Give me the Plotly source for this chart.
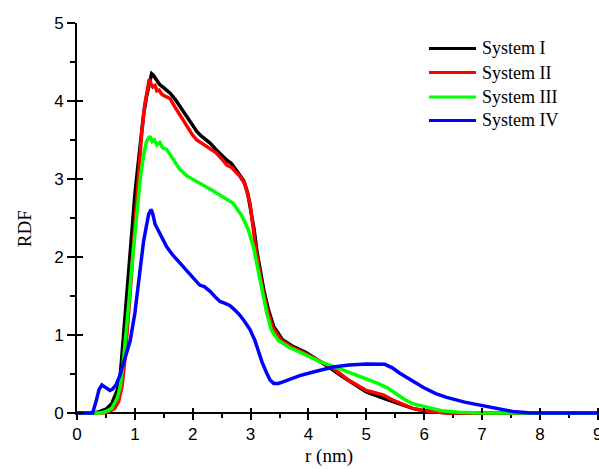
import plotly.graph_objects as go

# Radial distribution functions for the four systems
r_sys1 = [0, 0.3, 0.4, 0.5, 0.6, 0.7, 0.75, 0.8, 0.85, 0.9, 0.95, 1.0, 1.05, 1.1, 1.15, 1.2,
          1.25, 1.29, 1.32, 1.36, 1.4, 1.43, 1.48, 1.55, 1.61, 1.7, 1.78, 1.9, 2.0, 2.07,
          2.15, 2.24, 2.3, 2.4, 2.5, 2.59, 2.67, 2.73, 2.8, 2.88, 2.95, 3.0, 3.06, 3.11,
          3.17, 3.23, 3.31, 3.4, 3.55, 3.72, 3.95, 4.1, 4.37, 4.6, 4.8, 5.0, 5.3, 5.6,
          5.8, 6.0, 6.2, 6.4, 9.1]
rdf_sys1 = [0, 0, 0.02, 0.05, 0.12, 0.3, 0.5, 0.95, 1.45, 1.95, 2.4, 2.8, 3.15, 3.52, 3.82, 4.05,
            4.25, 4.35, 4.33, 4.29, 4.24, 4.21, 4.18, 4.14, 4.1, 4.02, 3.93, 3.79, 3.68, 3.61,
            3.55, 3.5, 3.46, 3.38, 3.3, 3.24, 3.2, 3.14, 3.07, 2.98, 2.82, 2.62, 2.36, 2.07,
            1.82, 1.57, 1.32, 1.11, 0.94, 0.86, 0.78, 0.71, 0.58, 0.46, 0.36, 0.27, 0.19, 0.11,
            0.06, 0.03, 0.01, 0, 0]

r_sys2 = [0, 0.45, 0.55, 0.65, 0.72, 0.78, 0.83, 0.87, 0.92, 0.97, 1.02, 1.07, 1.12, 1.17,
          1.21, 1.25, 1.28, 1.31, 1.35, 1.38, 1.42, 1.46, 1.5, 1.55, 1.61, 1.67, 1.72, 1.8,
          1.9, 2.0, 2.07, 2.15, 2.3, 2.4, 2.5, 2.59, 2.67, 2.73, 2.82, 2.9, 2.99, 3.04, 3.09,
          3.15, 3.21, 3.29, 3.38, 3.53, 3.7, 3.93, 4.1, 4.43, 4.7, 5.0, 5.15, 5.3, 5.45, 5.6,
          5.8, 6.0, 6.2, 6.4, 9.1]
rdf_sys2 = [0, 0, 0.02, 0.06, 0.15, 0.35, 0.7, 1.05, 1.55, 2.1, 2.65, 3.15, 3.6, 3.95,
            4.15, 4.28, 4.22, 4.18, 4.2, 4.13, 4.14, 4.09, 4.07, 4.05, 4.03, 3.95, 3.89, 3.8,
            3.68, 3.56, 3.5, 3.46, 3.39, 3.34, 3.26, 3.18, 3.15, 3.1, 3.03, 2.94, 2.69, 2.4, 2.1,
            1.84, 1.58, 1.32, 1.1, 0.93, 0.85, 0.77, 0.7, 0.57, 0.42, 0.29, 0.26, 0.23, 0.17, 0.12,
            0.06, 0.03, 0.01, 0, 0]

r_sys3 = [0, 0.4, 0.5, 0.6, 0.7, 0.75, 0.8, 0.85, 0.9, 0.95, 1.0, 1.05, 1.1, 1.15, 1.2,
          1.26, 1.3, 1.34, 1.38, 1.43, 1.48, 1.55, 1.65, 1.78, 1.9, 2.07, 2.2, 2.35, 2.5,
          2.6, 2.7, 2.78, 2.84, 2.9, 2.96, 3.05, 3.13, 3.19, 3.28, 3.36, 3.48, 3.65, 3.88,
          4.2, 4.5, 5.0, 5.2, 5.37, 5.5, 5.65, 5.8, 6.0, 6.3, 6.6, 7.0, 9.1]
rdf_sys3 = [0, 0, 0.02, 0.06, 0.2, 0.35, 0.65, 1.0, 1.45, 1.9, 2.3, 2.7, 3.05, 3.3, 3.48,
            3.55, 3.48, 3.5, 3.44, 3.47, 3.4, 3.38, 3.27, 3.12, 3.04, 2.97, 2.91, 2.85, 2.78,
            2.74, 2.69, 2.6, 2.54, 2.45, 2.35, 2.13, 1.83, 1.58, 1.28, 1.06, 0.93, 0.85, 0.77,
            0.66, 0.58, 0.44, 0.38, 0.32, 0.25, 0.18, 0.12, 0.08, 0.03, 0.01, 0, 0]

r_sys4 = [0, 0.27, 0.33, 0.38, 0.43, 0.48, 0.53, 0.57, 0.62, 0.68, 0.74, 0.8, 0.86, 0.92,
          1.0, 1.05, 1.09, 1.15, 1.2, 1.24, 1.28, 1.31, 1.35, 1.4, 1.47, 1.55, 1.65, 1.78,
          1.9, 1.98, 2.05, 2.12, 2.2, 2.3, 2.4, 2.47, 2.55, 2.64, 2.73, 2.82, 2.9, 2.99,
          3.07, 3.13, 3.2, 3.28, 3.34, 3.4, 3.48, 3.56, 3.7, 3.85, 4.1, 4.43, 4.7, 5.0,
          5.32, 5.45, 5.58, 5.75, 5.98, 6.2, 6.39, 6.7, 6.96, 7.25, 7.53, 7.8, 8.0, 9.1]
rdf_sys4 = [0, 0, 0.15, 0.3, 0.36, 0.33, 0.3, 0.29, 0.31, 0.37, 0.48, 0.63, 0.78, 0.93,
            1.28, 1.6, 1.83, 2.2, 2.4, 2.55, 2.61, 2.55, 2.42, 2.35, 2.25, 2.13, 2.03, 1.92,
            1.82, 1.75, 1.69, 1.64, 1.62, 1.56, 1.48, 1.43, 1.41, 1.38, 1.32, 1.25, 1.17, 1.07,
            0.94, 0.8, 0.65, 0.51, 0.42, 0.38, 0.38, 0.4, 0.44, 0.48, 0.53, 0.59, 0.615, 0.63,
            0.625, 0.58, 0.51, 0.43, 0.33, 0.25, 0.2, 0.14, 0.1, 0.06, 0.02, 0.005, 0, 0]

series_names = ["System I", "System II", "System III", "System IV"]
series_colors = ["#000000", "#ff0000", "#00ff00", "#0000ff"]
series_r = [r_sys1, r_sys2, r_sys3, r_sys4]
series_rdf = [rdf_sys1, rdf_sys2, rdf_sys3, rdf_sys4]

x_ticks = [0, 1, 2, 3, 4, 5, 6, 7, 8, 9]
y_ticks = [0, 1, 2, 3, 4, 5]

X_MAX = 9.022
Y_MIN, Y_MAX = -0.025, 5.0
x_axis_pos = (0 - Y_MIN) / (Y_MAX - Y_MIN)

tick_font = dict(family="Liberation Sans, Arial, sans-serif", size=17, color="#000")
title_font = dict(family="Liberation Serif, Times New Roman, serif", size=19, color="#000")
legend_font = dict(family="Liberation Serif, Times New Roman, serif", size=18, color="#000")

fig = go.Figure()
for name, color, r, g in zip(series_names, series_colors, series_r, series_rdf):
    fig.add_trace(go.Scatter(x=r, y=g, mode="lines", name=name,
                             line=dict(color=color, width=3.5), showlegend=False))

# Companion axes that carry the inner half of the crossing major ticks
fig.add_trace(go.Scatter(x=[None], y=[None], xaxis="x2", yaxis="y2",
                         showlegend=False, hoverinfo="skip"))

fig.update_layout(
    template="none",
    width=599, height=469,
    margin=dict(l=77, r=0, t=23, b=54),
    paper_bgcolor="white", plot_bgcolor="white",
    xaxis=dict(range=[0, X_MAX], tickvals=x_ticks, ticks="outside", ticklen=6,
               tickwidth=2, tickcolor="#000", showline=True, linewidth=2, linecolor="#000",
               mirror=True, showgrid=False, zeroline=False, tickfont=tick_font,
               ticklabeloverflow="allow",
               anchor="free", position=x_axis_pos, layer="below traces", automargin=False,
               minor=dict(dtick=0.5, tick0=0, ticks="outside", ticklen=4, tickwidth=2,
                          tickcolor="#000", showgrid=False)),
    yaxis=dict(range=[Y_MIN, Y_MAX], tickvals=y_ticks, ticks="outside", ticklen=8,
               tickwidth=2, tickcolor="#000", showline=True, linewidth=2, linecolor="#000",
               mirror=False, showgrid=False, zeroline=False, tickfont=tick_font,
               layer="below traces", automargin=False,
               minor=dict(dtick=0.5, tick0=0, ticks="outside", ticklen=5, tickwidth=2,
                          tickcolor="#000", showgrid=False)),
    xaxis2=dict(range=[0, X_MAX], tickvals=x_ticks, ticks="inside", ticklen=5, tickwidth=2,
                tickcolor="#000", showticklabels=False, showline=False, showgrid=False,
                zeroline=False, overlaying="x", anchor="free", position=x_axis_pos,
                automargin=False),
    yaxis2=dict(range=[Y_MIN, Y_MAX], tickvals=y_ticks[:-1], ticks="inside", ticklen=6,
                tickwidth=2, tickcolor="#000", showticklabels=False, showline=False,
                showgrid=False, zeroline=False, overlaying="y", automargin=False),
)

# Axis titles
fig.add_annotation(text="RDF", xref="paper", yref="paper", x=-0.1015, y=0.474,
                   textangle=-90, showarrow=False, font=title_font,
                   xanchor="center", yanchor="middle")
fig.add_annotation(text="r (nm)", xref="paper", yref="paper", x=0.483, y=-0.105,
                   showarrow=False, font=title_font, xanchor="center", yanchor="middle")

# Legend: sample line and label for each system
legend_rows = [0.9351, 0.8736, 0.811, 0.7513]
for name, color, ly in zip(series_names, series_colors, legend_rows):
    fig.add_shape(type="line", xref="paper", yref="paper", x0=0.6743, x1=0.7644,
                  y0=ly, y1=ly, line=dict(color=color, width=3))
    fig.add_annotation(text=name, xref="paper", yref="paper", x=0.772, y=ly,
                       showarrow=False, font=legend_font, xanchor="left", yanchor="middle")

fig.write_html("out.html")
